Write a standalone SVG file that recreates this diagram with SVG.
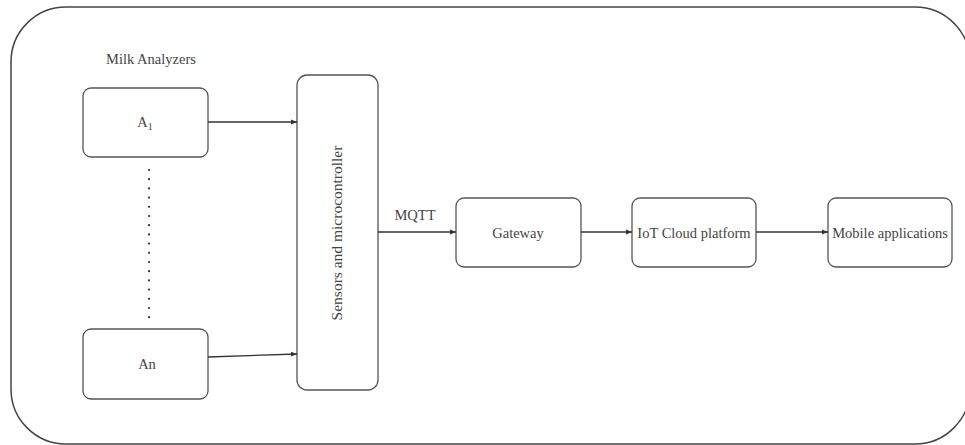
<svg xmlns="http://www.w3.org/2000/svg" width="965" height="445" viewBox="0 0 965 445">
<defs>
<style>
.box{fill:#fff;stroke:#555;stroke-width:1.3}
.frame{fill:#fff;stroke:#444;stroke-width:1.5}
.t{font-family:"Liberation Serif","Times New Roman",serif;font-size:14.5px;fill:#444;text-anchor:middle;dominant-baseline:central}
.c{stroke:#333;stroke-width:1.3;fill:none;marker-end:url(#ah)}
.dots{stroke:#333;stroke-width:2.2;stroke-linecap:round;stroke-dasharray:0 9.2;fill:none}
</style>
<marker id="ah" viewBox="0 0 10 10" refX="10" refY="5" markerWidth="7" markerHeight="6" markerUnits="userSpaceOnUse" orient="auto">
<path d="M0,1 L10,5 L0,9 Z" fill="#333"/>
</marker>
</defs>
<rect width="965" height="445" fill="#fff"/>
<rect class="frame" x="11" y="7" width="959" height="437" rx="55" ry="55"/>
<text class="t" x="151" y="59">Milk Analyzers</text>
<g id="A1">
<rect class="box" x="83" y="88" width="125" height="69" rx="8"/>
<text class="t" x="145" y="122">A<tspan font-size="10" dy="4">1</tspan></text>
</g>
<g id="An">
<rect class="box" x="83" y="329" width="125" height="70" rx="8"/>
<text class="t" x="147" y="364">An</text>
</g>
<g id="dotsgroup">
<path class="dots" d="M149,170 L149,319"/>
</g>
<g id="sensors">
<rect class="box" x="297" y="75" width="81" height="315" rx="10"/>
<text class="t" transform="translate(336,233) rotate(-90)" style="font-size:15.5px">Sensors and microcontroller</text>
</g>
<g id="gateway">
<rect class="box" x="456" y="198" width="125" height="69" rx="8"/>
<text class="t" x="518" y="233">Gateway</text>
</g>
<g id="iot">
<rect class="box" x="632" y="198" width="124" height="69" rx="8"/>
<text class="t" x="694" y="233">IoT Cloud platform</text>
</g>
<g id="mobile">
<rect class="box" x="828" y="198" width="124" height="69" rx="8"/>
<text class="t" x="890" y="233">Mobile applications</text>
</g>
<g id="connectors">
<line class="c" x1="208" y1="122" x2="297" y2="122"/>
<line class="c" x1="208" y1="357" x2="297" y2="354"/>
<line class="c" x1="378" y1="232" x2="456" y2="232"/>
<text class="t" x="415" y="215">MQTT</text>
<line class="c" x1="581" y1="232" x2="632" y2="232"/>
<line class="c" x1="756" y1="232" x2="828" y2="232"/>
</g>
</svg>
